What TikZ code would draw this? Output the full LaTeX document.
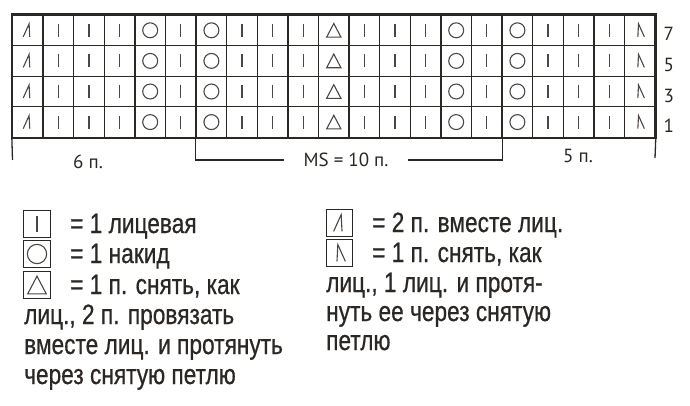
\documentclass[tikz,border=0pt]{standalone}
\usepackage{fontspec}
\setmainfont{PT Sans}
\newfontfamily\legendfont[FakeStretch=0.81,FakeBold=0.6]{Liberation Sans}
\usetikzlibrary{positioning}
\definecolor{ink}{HTML}{2B2724}

\begin{document}
\begin{tikzpicture}[x=1pt,y=-1pt]

\useasboundingbox (0,0) rectangle (690,406);

\tikzset{gs/.store in=\gs, gs=6.5}
\tikzset{cell/.style = {draw=ink, line width=1.3pt, minimum size=30.6pt, inner sep=0pt}}
\tikzset{sym/.style = {draw=ink!85, line width=1.1pt, shift={(path picture bounding box.center)}}}
\tikzset{knit/.style = {cell, path picture={\draw[sym] (0,-\gs) -- (0,\gs);}}}
\tikzset{yo/.style = {cell, path picture={\draw[sym] (0,0) circle ({1.15*\gs});}}}
\tikzset{cdd/.style = {cell, path picture={\draw[sym] (0,{-1.05*\gs}) -- ({1.1*\gs},{1.05*\gs}) -- ({-1.1*\gs},{1.05*\gs}) -- cycle;}}}
\tikzset{ktog/.style = {cell, path picture={\draw[sym] ({-0.7*\gs},\gs) -- ({0.2*\gs},-\gs) -- ({0.3*\gs},\gs);}}}
\tikzset{ssk/.style = {cell, path picture={\draw[sym] ({-0.3*\gs},\gs) -- ({-0.2*\gs},-\gs) -- ({0.7*\gs},\gs);}}}
\tikzset{box/.style = {minimum size=26.5pt, line width=1.4pt, gs=8.4}}
\tikzset{tick/.style = {draw=ink, line width=1.3pt}}
\tikzset{lab/.style = {text=ink, font=\fontsize{19}{21}\selectfont, inner sep=0pt}}
\tikzset{legend/.style = {text=ink, font=\legendfont\fontsize{28}{30}\selectfont, inner sep=0pt, anchor=base west}}

% chart
\foreach \s [count=\c] in {ktog,knit,knit,knit,yo,knit,yo,knit,knit,knit,cdd,knit,knit,knit,yo,knit,yo,knit,knit,knit,ssk}
  \foreach \r in {1,...,4}
    \node[\s] (c\r-\c) at ({30.6*\c-2.8},{30.6*\r-0.3}) {};
\draw[ink, line width=2.2pt] (c1-1.north west) rectangle (c4-21.south east);

% row numbers
\node[lab] (r7) at ([xshift=13pt,yshift=-4pt]c1-21.east) {7};
\node[lab] (r5) at ([xshift=13pt,yshift=-4pt]c2-21.east) {5};
\node[lab] (r3) at ([xshift=13pt,yshift=-4pt]c3-21.east) {3};
\node[lab] (r1) at ([xshift=13pt,yshift=-4pt]c4-21.east) {1};

% repeats
\coordinate (lend) at (12.5,160);
\coordinate (rend) at (655,158);
\node[lab] (six) at (88,162) {6 п.};
\node[lab] (five) at (578,156) {5 п.};
\node[lab, inner xsep=19pt] (ms) at (346,160) {MS = 10 п.};
\draw[tick] (c4-1.south west) -- (lend);
\draw[tick] (c4-21.south east) -- (rend);
\draw[tick] (c4-7.south west) |- (ms.west);
\draw[tick] (c4-16.south east) |- (ms.east);

% legend
\node[knit, box] (bknit) at (37,224) {};
\node[yo, box] (byo) at (37,254) {};
\node[cdd, box] (bcdd) at (37,285) {};
\node[ktog, box] (bktog) at (339.5,223) {};
\node[ssk, box] (bssk) at (339.5,253) {};

\node[legend] (tknit) at (70,233) {= 1 лицевая};
\node[legend] (tyo) at (70,263) {= 1 накид};
\node[legend] (tcdd) at (70,294) {= 1 п. снять, как};
\node[legend] (tcdd2) at (24,324) {лиц., 2 п. провязать};
\node[legend] (tcdd3) at (24,354) {вместе лиц. и протянуть};
\node[legend] (tcdd4) at (24,384) {через снятую петлю};
\node[legend] (tktog) at (372,232) {= 2 п. вместе лиц.};
\node[legend] (tssk) at (372,262) {= 1 п. снять, как};
\node[legend] (tssk2) at (326,292) {лиц., 1 лиц. и протя-};
\node[legend] (tssk3) at (326,321) {нуть ее через снятую};
\node[legend] (tssk4) at (326,350) {петлю};

\end{tikzpicture}
\end{document}
